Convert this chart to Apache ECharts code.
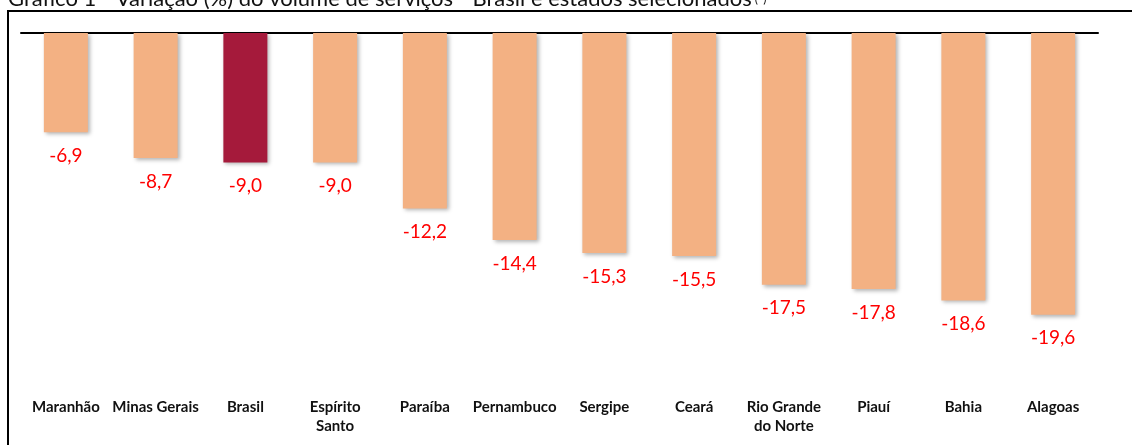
<!DOCTYPE html>
<html>
<head>
<meta charset="utf-8">
<script src="https://cdn.jsdelivr.net/npm/echarts@6/dist/echarts.min.js"></script>
<style>
html,body{margin:0;padding:0;background:#fff;}
#chart{width:1132px;height:445px;}
</style>
</head>
<body>
<div id="chart"></div>
<script>
const categories = ['Maranhão','Minas Gerais','Brasil','Espírito\nSanto','Paraíba','Pernambuco','Sergipe','Ceará','Rio Grande\ndo Norte','Piauí','Bahia','Alagoas'];
const values = [-6.9,-8.7,-9.0,-9.0,-12.2,-14.4,-15.3,-15.5,-17.5,-17.8,-18.6,-19.6];
const highlight = 'Brasil';
const titleText = 'Gráfico 1 - Variação (%) do volume de serviços - Brasil e estados selecionados';
const titleNote = '(*)';

const chart = echarts.init(document.getElementById('chart'), null, {renderer:'canvas'});
const option = {
  animation:false,
  backgroundColor:'#fff',
  grid:{left:21,right:34,top:33,bottom:52.5,containLabel:false},
  xAxis:[{
    type:'category',data:categories,position:'bottom',
    axisLine:{show:false,onZero:false},axisTick:{show:false},
    axisLabel:{interval:0,margin:5,color:'#111',fontWeight:'bold',fontSize:15,lineHeight:19,fontFamily:'Lato, "Open Sans", sans-serif'}
  },{
    type:'category',data:categories,position:'top',
    axisLine:{show:true,onZero:false,lineStyle:{color:'#000',width:2}},axisTick:{show:false},axisLabel:{show:false}
  }],
  yAxis:{type:'value',min:-25,max:0,show:false,splitLine:{show:false}},
  series:[{
    type:'bar',xAxisIndex:0,barWidth:44,
    data:values.map((v,i)=>({value:v,itemStyle:{color:categories[i]===highlight?'#A51A3B':'#F3B183'}})),
    itemStyle:{shadowBlur:4,shadowOffsetX:2,shadowOffsetY:2,shadowColor:'rgba(0,0,0,0.3)'},
    label:{show:true,position:'bottom',distance:14,color:'#FF0000',fontSize:19,fontFamily:'Lato, "Open Sans", sans-serif',
      formatter:p=>p.value.toFixed(1).replace('.',',')}
  }],
  graphic:[
    {type:'rect',shape:{x:8,y:11,width:1140,height:460},style:{fill:'none',stroke:'#000',lineWidth:2},z:-1},
    {type:'text',left:8,top:-12,style:{
      text:'{t|'+titleText+'}{s|'+titleNote+'}',
      rich:{t:{fontSize:22,fill:'#111',fontFamily:'Lato, "Open Sans", sans-serif'},
            s:{fontSize:12,fill:'#111',fontFamily:'Lato, "Open Sans", sans-serif',verticalAlign:'middle',padding:[0,0,0,3]}}
    }}
  ]
};
chart.setOption(option);
</script>
</body>
</html>
